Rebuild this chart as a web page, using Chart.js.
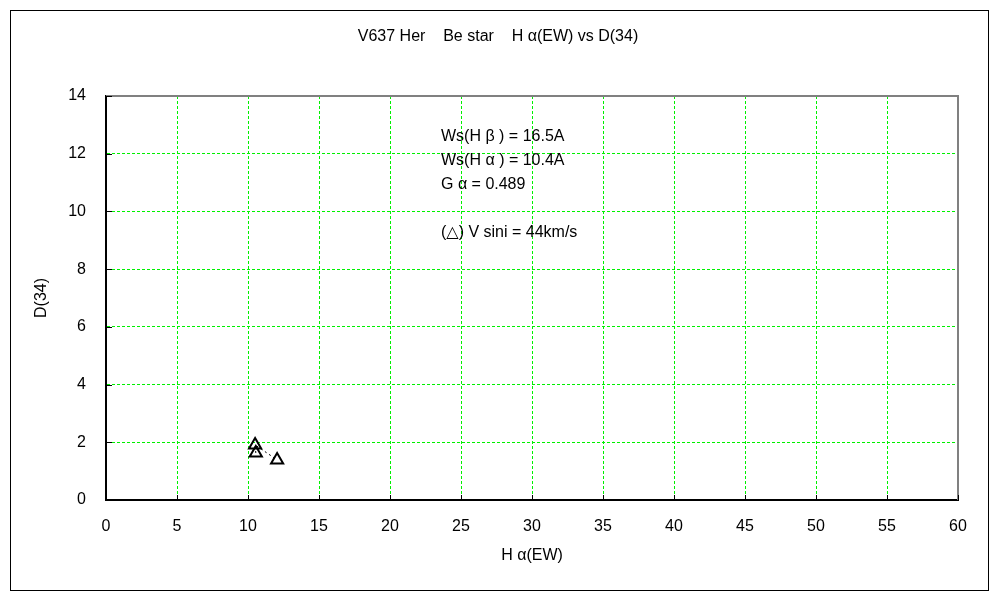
<!DOCTYPE html>
<html>
<head>
<meta charset="utf-8">
<script src="https://cdn.jsdelivr.net/npm/chart.js@4/dist/chart.umd.min.js"></script>
<style>
  html, body { margin: 0; padding: 0; background: #fff; }
  #wrap { width: 1000px; height: 600px; position: relative; }
</style>
</head>
<body>
<div id="wrap"><canvas id="c" width="1000" height="600"></canvas></div>
<script>
// Hα(EW) vs D(34) — V637 Her
const haEW = [10.55, 10.5, 12.05];
const d34 = [1.63, 1.91, 1.39];
const xTicks = [0, 5, 10, 15, 20, 25, 30, 35, 40, 45, 50, 55, 60];
const yTicks = [0, 2, 4, 6, 8, 10, 12, 14];

const chartTitle = 'V637 Her    Be star    H α(EW) vs D(34)';
const xTitle = 'H α(EW)';
const yTitle = 'D(34)';
const notes = ['Ws(H β ) = 16.5A', 'Ws(H α ) = 10.4A', 'G α = 0.489', '', '(△) V sini = 44km/s'];

const FONT = "'Liberation Sans', 'DejaVu Sans', sans-serif";
const GRID = '#00f000';

const decor = {
  id: 'decor',
  afterDraw(chart) {
    const { ctx, chartArea: a, scales } = chart;
    ctx.save();
    // outer frame
    ctx.strokeStyle = '#000';
    ctx.lineWidth = 1;
    ctx.strokeRect(10.5, 10.5, 978, 580);
    // top / right plot border (gray)
    ctx.strokeStyle = '#808080';
    ctx.lineWidth = 2;
    ctx.beginPath();
    ctx.moveTo(a.left, a.top);
    ctx.lineTo(a.right, a.top);
    ctx.lineTo(a.right, a.bottom);
    ctx.stroke();
    // inner ticks
    ctx.strokeStyle = '#000';
    ctx.lineWidth = 1;
    ctx.beginPath();
    yTicks.forEach(v => {
      const y = Math.round(scales.y.getPixelForValue(v)) + 0.5;
      ctx.moveTo(a.left, y); ctx.lineTo(a.left + 6, y);
    });
    xTicks.forEach(v => {
      const x = Math.round(scales.x.getPixelForValue(v)) + 0.5;
      ctx.moveTo(x, a.bottom); ctx.lineTo(x, a.bottom - 5);
    });
    ctx.stroke();
    // texts
    ctx.fillStyle = '#000';
    ctx.font = '16px ' + FONT;
    ctx.textAlign = 'center';
    ctx.textBaseline = 'middle';
    ctx.fillText(chartTitle, 498, 37);
    ctx.fillText(xTitle, (a.left + a.right) / 2, 556);
    ctx.save();
    ctx.translate(42, (a.top + a.bottom) / 2);
    ctx.rotate(-Math.PI / 2);
    ctx.fillText(yTitle, 0, 0);
    ctx.restore();
    ctx.textAlign = 'left';
    notes.forEach((t, i) => {
      if (t) ctx.fillText(t, 441, 137 + i * 24);
    });
    ctx.restore();
  }
};

new Chart(document.getElementById('c'), {
  type: 'scatter',
  data: {
    datasets: [{
      data: haEW.map((x, i) => ({ x, y: d34[i] })),
      showLine: true,
      borderColor: '#000',
      borderWidth: 1,
      borderDash: [2, 3],
      pointStyle: 'triangle',
      pointRadius: 7,
      pointHoverRadius: 7,
      pointBorderColor: '#000',
      pointBorderWidth: 2,
      pointBackgroundColor: 'rgba(0,0,0,0)'
    }]
  },
  options: {
    responsive: false,
    animation: false,
    events: [],
    layout: { padding: { top: 96, right: 42, left: 0, bottom: 0 } },
    plugins: { legend: { display: false }, tooltip: { enabled: false }, title: { display: false } },
    scales: {
      x: {
        type: 'linear', min: 0, max: 60,
        afterBuildTicks: s => { s.ticks = xTicks.map(v => ({ value: v })); },
        afterFit: s => { s.height = 100; },
        grid: { color: GRID, lineWidth: 1, drawTicks: false },
        border: { color: '#000', width: 2, dash: [3, 2] },
        ticks: { color: '#000', font: { size: 16, family: FONT }, padding: 17, maxRotation: 0 }
      },
      y: {
        type: 'linear', min: 0, max: 14,
        afterBuildTicks: s => { s.ticks = yTicks.map(v => ({ value: v })); },
        afterFit: s => { s.width = 106; },
        grid: { color: GRID, lineWidth: 1, drawTicks: false },
        border: { color: '#000', width: 2, dash: [3, 2] },
        ticks: { color: '#000', font: { size: 16, family: FONT }, padding: 20 }
      }
    }
  },
  plugins: [decor]
});
</script>
</body>
</html>
